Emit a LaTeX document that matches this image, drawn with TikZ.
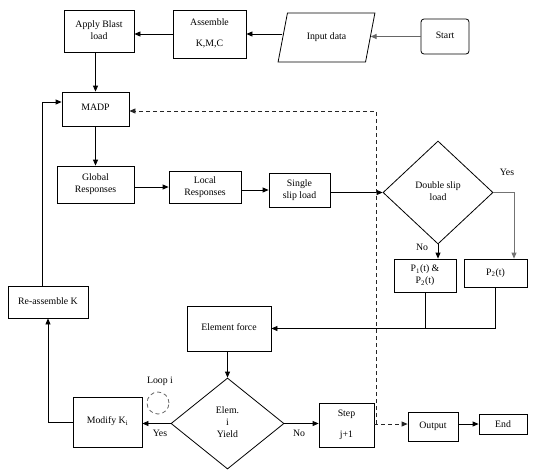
\documentclass[tikz,border=0pt]{standalone}
\usepackage{fontspec}
\setmainfont{Liberation Serif}
\usetikzlibrary{arrows.meta,shapes.geometric}
\newcommand\rz[2]{\raisebox{#1pt}{\begin{tabular}{@{}c@{}}#2\end{tabular}}}
\tikzset{
  box/.style={draw, line width=0.8pt, rectangle, inner sep=0pt, align=center},
  dia/.style={draw, line width=0.8pt, diamond, inner sep=0pt, align=center},
  arr/.style={line width=0.8pt, -{Triangle[length=6pt,width=5pt]}},
  ln/.style={line width=0.8pt},
  dsh/.style={line width=0.8pt, dash pattern=on 4pt off 3pt, draw=black!85},
  lbl/.style={inner sep=0pt}
}
\begin{document}
\begin{tikzpicture}[x=1pt,y=-1pt,font=\fontsize{9.8}{12}\selectfont]
\useasboundingbox (0,0) rectangle (535,472);
% nodes
\node[box, rounded corners=3pt, minimum width=48, minimum height=35] (start) at (445,36.5) {\rz{4.5}{Start}};
\node[draw, line width=0.8pt, trapezium, trapezium left angle=70, trapezium right angle=110, trapezium stretches=true, minimum width=97, minimum height=49, inner sep=0pt] (input) at (326.5,37.5) {\rz{4.5}{Input data}};
\node[box, minimum width=73, minimum height=48] (assemble) at (209.5,34) {\rz{1.5}{Assemble\\[9pt]K,M,C}};
\node[box, minimum width=70, minimum height=42] (apply) at (99,31) {\rz{3}{Apply Blast\\load}};
\node[box, minimum width=67, minimum height=34] (madp) at (95.5,109) {\rz{5}{MADP}};
\node[box, minimum width=77, minimum height=37] (global) at (95.5,184.5) {\rz{1.5}{Global\\Responses}};
\node[box, minimum width=72, minimum height=32] (local) at (205,187) {\rz{0}{Local\\Responses}};
\node[box, minimum width=61, minimum height=34] (single) at (299.5,190) {\rz{0}{Single\\slip load}};
\node[dia, minimum width=110, minimum height=103] (dbl) at (438,192.5) {\rz{0}{Double slip\\load}};
\node[box, minimum width=62, minimum height=33] (p1) at (425,275.5) {\rz{-1}{P\textsubscript{1}(t) \&\\P\textsubscript{2}(t)}};
\node[box, minimum width=63, minimum height=28] (p2) at (495.5,273) {\rz{3}{P\textsubscript{2}(t)}};
\node[box, minimum width=80, minimum height=32] (reasm) at (48,302) {\rz{4}{Re-assemble K}};
\node[box, minimum width=84, minimum height=45] (force) at (229,328.5) {\rz{4.5}{Element force}};
\node[dia, minimum width=113, minimum height=91] (elem) at (227.5,423.5) {\rz{0}{Elem.\\i\\Yield}};
\node[box, minimum width=69, minimum height=50] (modify) at (107.5,422) {\rz{5}{Modify K\textsubscript{i}}};
\node[box, minimum width=55, minimum height=44] (step) at (346.5,425) {\rz{0.5}{Step\\[9pt]j+1}};
\node[box, minimum width=50, minimum height=29] (output) at (433,426.5) {\rz{2.5}{Output}};
\node[box, minimum width=48, minimum height=20] (end) at (503,424) {End};
% labels
\node[lbl] (yes1) at (507,172) {Yes};
\node[lbl] (no1) at (422,247) {No};
\node[lbl] (yes2) at (160,433) {Yes};
\node[lbl] (no2) at (299,433) {No};
\node[lbl] (loopt) at (160,381) {Loop i};
\node[circle, dsh, draw=black!60, minimum size=22, inner sep=0pt] (loopc) at (158,403) {};
% connectors
\draw[arr, line width=1.2pt, draw=black!60] (start.west) -- (start.west -| input.east);
\draw[arr] (input.west |- assemble.east) -- (assemble.east);
\draw[arr] (assemble.west) -- (assemble.west -| apply.east);
\draw[arr] (apply.south -| madp.north) -- (madp.north);
\draw[arr] (madp.south) -- (global.north);
\draw[arr] (global.east |- local.west) -- (local.west);
\draw[arr] (local.east |- single.west) -- (single.west);
\draw[arr] (single.east |- dbl.west) -- (dbl.west);
\draw[arr] (dbl.south) -- (dbl.south |- p1.north);
\draw[arr, draw=black!55] (dbl.east) -| ([xshift=18.5pt]p2.north);
\draw[ln] (p1.south) -- (p1.south |- force.east);
\draw[arr] (p2.south) |- (force.east);
\draw[arr] (force.south -| elem.north) -- (elem.north);
\draw[arr] (elem.west) -- (elem.west -| modify.east);
\draw[arr] (modify.west) -| (reasm.south);
\draw[arr] ([xshift=-6pt]reasm.north) |- ([yshift=7pt]madp.west);
\draw[arr] (elem.east) -- (elem.east -| step.west);
\coordinate (dj) at (376,424);
\draw[dsh, -{Triangle[length=6pt,width=5pt]}] (step.east |- dj) -- (dj -| output.west);
\draw[dsh, -{Triangle[length=6pt,width=5pt]}] (dj) |- ([yshift=-2pt]madp.east);
\draw[arr] (output.east |- end.west) -- (end.west);
\end{tikzpicture}
\end{document}
